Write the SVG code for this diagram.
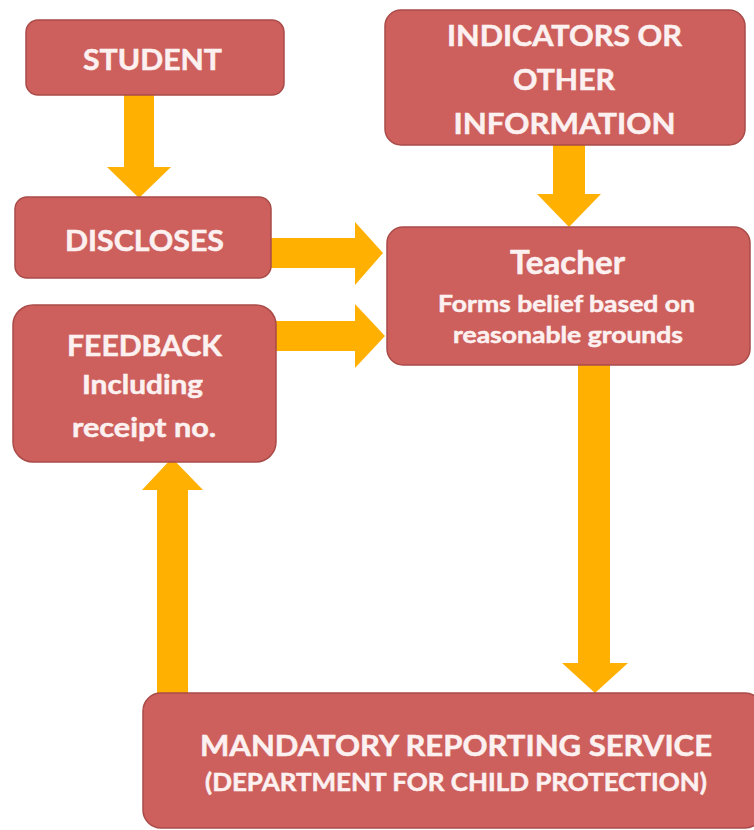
<svg xmlns="http://www.w3.org/2000/svg" width="754" height="830" viewBox="0 0 754 830">
<style>
.box{fill:#CD605D;stroke:#A94B48;stroke-width:1.5}
.arrow{fill:#FFB000}
text{font-family:Lato,"Liberation Sans",Arial,sans-serif;font-weight:bold;fill:#FCF1F0;text-anchor:middle;stroke:#FCF1F0;stroke-width:0.5}
.big{font-size:29px}
.teach{font-size:32px}
.mid{font-size:26px}
.small{font-size:22px}
.sub{font-size:24px}
</style>
<rect width="754" height="830" fill="#ffffff"/>
<g id="connectors">
<polygon class="arrow" points="124,95 154,95 154,167 171,167 139,198 107,167 124,167"/>
<polygon class="arrow" points="553,145 585,145 585,194 601,194 569,227 537,194 553,194"/>
<polygon class="arrow" points="271,238 355,238 355,222 383,253 355,285 355,268 271,268"/>
<polygon class="arrow" points="276,321 355,321 355,304 385,336 355,368 355,351 276,351"/>
<polygon class="arrow" points="578,365 610,365 610,663 628,663 595,693 562,663 578,663"/>
<polygon class="arrow" points="157,693 157,490 142,490 172,458 203,490 188,490 188,693"/>
</g>
<g id="student">
<rect class="box" x="26" y="20" width="258" height="75" rx="12"/>
<text class="big" x="152.5" y="70" textLength="139" lengthAdjust="spacingAndGlyphs">STUDENT</text>
</g>
<g id="indicators">
<rect class="box" x="385" y="10" width="360" height="135" rx="16"/>
<text class="big" x="564.5" y="46" textLength="235" lengthAdjust="spacingAndGlyphs">INDICATORS OR</text>
<text class="big" x="564" y="90" textLength="102" lengthAdjust="spacingAndGlyphs">OTHER</text>
<text class="big" x="564.5" y="134" textLength="222" lengthAdjust="spacingAndGlyphs">INFORMATION</text>
</g>
<g id="discloses">
<rect class="box" x="15" y="197" width="256" height="81" rx="12"/>
<text class="big" x="144.5" y="251" textLength="159" lengthAdjust="spacingAndGlyphs">DISCLOSES</text>
</g>
<g id="teacher">
<rect class="box" x="387" y="227" width="363" height="138" rx="16"/>
<text class="teach" x="567.5" y="274" textLength="115" lengthAdjust="spacingAndGlyphs">Teacher</text>
<text class="small" x="566.5" y="312" textLength="257" lengthAdjust="spacingAndGlyphs">Forms belief based on</text>
<text class="small" x="568" y="343" textLength="230" lengthAdjust="spacingAndGlyphs">reasonable grounds</text>
</g>
<g id="feedback">
<rect class="box" x="13" y="305" width="263" height="157" rx="20"/>
<text class="big" x="144.5" y="356" textLength="155" lengthAdjust="spacingAndGlyphs">FEEDBACK</text>
<text class="mid" x="142.5" y="394" textLength="121" lengthAdjust="spacingAndGlyphs">Including</text>
<text class="mid" x="144" y="437" textLength="144" lengthAdjust="spacingAndGlyphs">receipt no.</text>
</g>
<g id="mrs">
<rect class="box" x="143" y="693" width="620" height="135" rx="18"/>
<text class="big" x="456" y="756" textLength="512" lengthAdjust="spacingAndGlyphs">MANDATORY REPORTING SERVICE</text>
<text class="sub" x="456" y="791" textLength="502" lengthAdjust="spacingAndGlyphs">(DEPARTMENT FOR CHILD PROTECTION)</text>
</g>
</svg>
